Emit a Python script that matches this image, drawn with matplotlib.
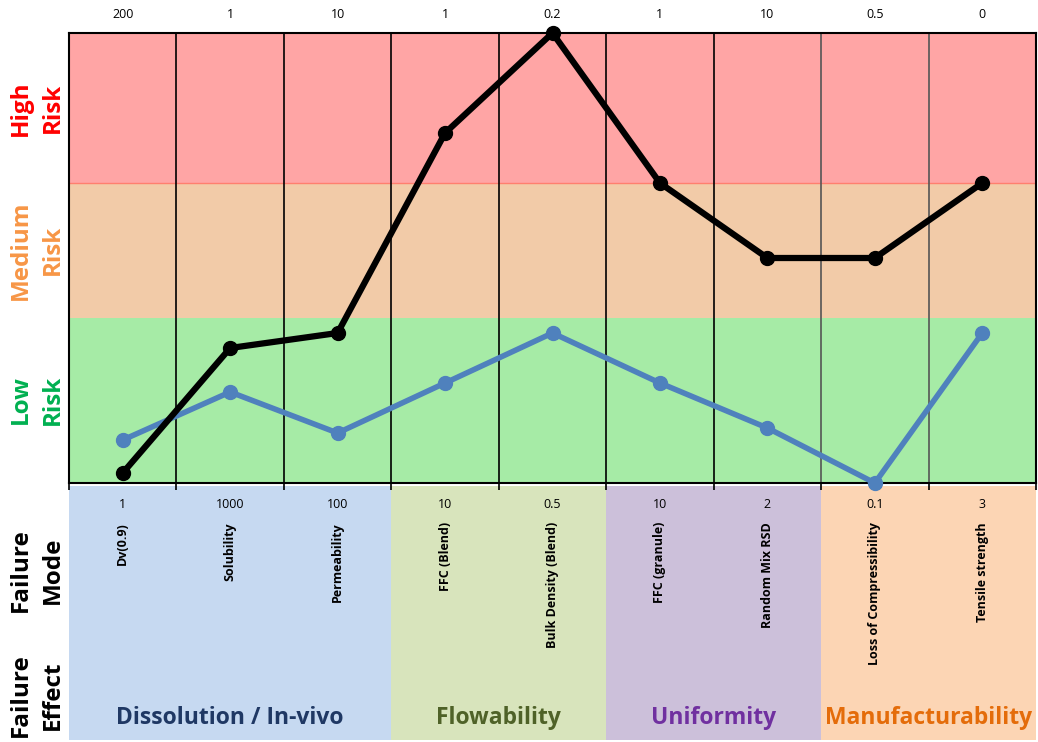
import matplotlib.pyplot as plt
from matplotlib.patches import Rectangle

# failure modes along the x axis
modes = ['Dv(0.9)', 'Solubility', 'Permeability', 'FFC (Blend)', 'Bulk Density (Blend)',
         'FFC (granule)', 'Random Mix RSD', 'Loss of Compressibility', 'Tensile strength']
top_labels = ['200', '1', '10', '1', '0.2', '1', '10', '0.5', '0']
bottom_labels = ['1', '1000', '100', '10', '0.5', '10', '2', '0.1', '3']

# risk scores
black_risk = [0.2, 2.7, 3.0, 7.0, 9.0, 6.0, 4.5, 4.5, 6.0]
blue_risk = [0.86, 1.82, 1.0, 2.0, 3.0, 2.0, 1.1, 0.0, 3.0]

# risk bands (low, medium, high)
band_edges = [0, 3.3, 6.0, 9.0]
band_colors = ['#a6eba6', '#f2cba8', '#ffa5a5']

# failure effect groups: name, first column, number of columns
groups = ['Dissolution / In-vivo', 'Flowability', 'Uniformity', 'Manufacturability']
group_start = [0, 3, 5, 7]
group_size = [3, 2, 2, 2]
group_fill = ['#c6d9f1', '#d8e4bc', '#ccc0da', '#fcd5b4']
group_text = ['#1f3864', '#4f6228', '#7030a0', '#e46c0a']

W, H = 1038, 742
fig = plt.figure(figsize=(W/100, H/100), dpi=100)
plt.rcParams['font.family'] = ['Open Sans', 'DejaVu Sans']

x0, x1 = 69, 1036
ax = fig.add_axes([x0/W, 1-483/H, (x1-x0)/W, (483-33)/H])
n = len(modes)
xs = [i + 0.5 for i in range(n)]

for k in range(3):
    ax.axhspan(band_edges[k], band_edges[k+1], color=band_colors[k], zorder=0, lw=0)
ax.axhline(band_edges[2], color='#ff7f6f', lw=1, zorder=1)
for i in range(1, n):
    c = '#555555' if i >= 7 else 'black'
    ax.axvline(i, color=c, lw=1.2, zorder=1)

ax.plot(xs, blue_risk, '-o', color='#4f81bd', lw=4, ms=10, zorder=3, clip_on=False)
ax.plot(xs, black_risk, '-o', color='black', lw=4.5, ms=10, zorder=4, clip_on=False)

ax.set_xlim(0, n)
ax.set_ylim(0, 9)
ax.set_yticks([])
ax.set_xticks(range(n + 1))
ax.set_xticklabels([])
ax.tick_params(axis='x', direction='out', length=5, width=1.2)
for s in ax.spines.values():
    s.set_linewidth(1.5)
    s.set_color('black')

for x, t in zip(xs, top_labels):
    ax.text(x, 1 + 19/450, t, transform=ax.get_xaxis_transform(), ha='center', va='center', fontsize=9)

# bottom panel with failure modes and effects
bx = fig.add_axes([x0/W, 1-740/H, (x1-x0)/W, (740-486)/H], zorder=-1)
bx.set_xlim(0, n)
bx.set_ylim(740, 486)
bx.axis('off')
for g, s, m, fc, tc in zip(groups, group_start, group_size, group_fill, group_text):
    bx.add_patch(Rectangle((s, 486), m, 254, color=fc, lw=0))
    bx.text(s + m/2, 718, g, ha='center', va='center', fontsize=16.5, fontweight='bold', color=tc)
for x, b, md in zip(xs, bottom_labels, modes):
    bx.text(x, 505, b, ha='center', va='center', fontsize=9)
    bx.text(x, 522, md, ha='center', va='top', rotation=90, fontsize=9, fontweight='bold')

# left side labels
left = [('High', 'Risk', 108, 'red'), ('Medium', 'Risk', 250, '#f79646'),
        ('Low', 'Risk', 400, '#00b050'), ('Failure', 'Mode', 570, 'black'),
        ('Failure', 'Effect', 695, 'black')]
for a, b, yc, c in left:
    fig.text(21/W, 1-yc/H, a, rotation=90, ha='center', va='center', fontsize=17.5, fontweight='bold', color=c)
    fig.text(53/W, 1-yc/H, b, rotation=90, ha='center', va='center', fontsize=17.5, fontweight='bold', color=c)

fig.savefig('out.png', dpi=100)
